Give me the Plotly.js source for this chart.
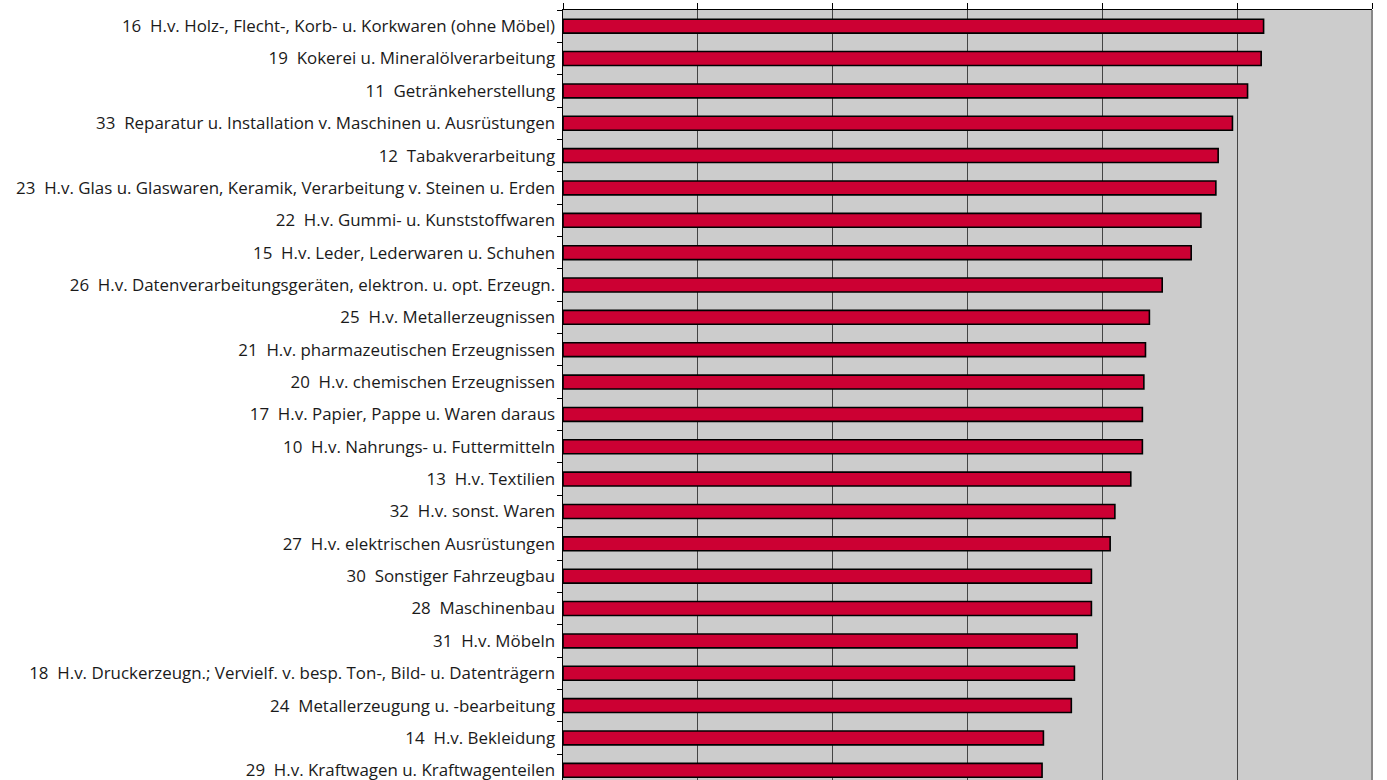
<!DOCTYPE html>
<html>
<head>
<meta charset="utf-8">
<script src="https://cdn.plot.ly/plotly-3.0.1.min.js"></script>
<style>
html, body { margin: 0; padding: 0; overflow: hidden; background: #ffffff; }
#chart { width: 1387px; height: 780px; }
</style>
</head>
<body>
<div id="chart"></div>
<script>
// Categories listed top to bottom as in the reference
const categories = [
  "16\u00a0 H.v. Holz-, Flecht-, Korb- u. Korkwaren (ohne Möbel)",
  "19\u00a0 Kokerei u. Mineralölverarbeitung",
  "11\u00a0 Getränkeherstellung",
  "33\u00a0 Reparatur u. Installation v. Maschinen u. Ausrüstungen",
  "12\u00a0 Tabakverarbeitung",
  "23\u00a0 H.v. Glas u. Glaswaren, Keramik, Verarbeitung v. Steinen u. Erden",
  "22\u00a0 H.v. Gummi- u. Kunststoffwaren",
  "15\u00a0 H.v. Leder, Lederwaren u. Schuhen",
  "26\u00a0 H.v. Datenverarbeitungsgeräten, elektron. u. opt. Erzeugn.",
  "25\u00a0 H.v. Metallerzeugnissen",
  "21\u00a0 H.v. pharmazeutischen Erzeugnissen",
  "20\u00a0 H.v. chemischen Erzeugnissen",
  "17\u00a0 H.v. Papier, Pappe u. Waren daraus",
  "10\u00a0 H.v. Nahrungs- u. Futtermitteln",
  "13\u00a0 H.v. Textilien",
  "32\u00a0 H.v. sonst. Waren",
  "27\u00a0 H.v. elektrischen Ausrüstungen",
  "30\u00a0 Sonstiger Fahrzeugbau",
  "28\u00a0 Maschinenbau",
  "31\u00a0 H.v. Möbeln",
  "18\u00a0 H.v. Druckerzeugn.; Vervielf. v. besp. Ton-, Bild- u. Datenträgern",
  "24\u00a0 Metallerzeugung u. -bearbeitung",
  "14\u00a0 H.v. Bekleidung",
  "29\u00a0 H.v. Kraftwagen u. Kraftwagenteilen"
];
const values = [
  51.96, 51.78, 50.77, 49.65, 48.59, 48.42, 47.31, 46.59,
  44.44, 43.49, 43.20, 43.08, 42.97, 42.97, 42.11, 40.93,
  40.58, 39.19, 39.19, 38.13, 37.93, 37.70, 35.63, 35.53
];
const xTicks = [0, 10, 20, 30, 40, 50, 60];

// bottom-to-top order for the category axis
const yCats = categories.slice().reverse();
const xVals = values.slice().reverse();

const trace = {
  type: 'bar',
  orientation: 'h',
  y: yCats,
  x: xVals,
  marker: { color: '#cc0033', line: { color: '#000000', width: 1.6 } },
  hoverinfo: 'x+y'
};

const layout = {
  width: 1387,
  height: 780,
  margin: { l: 563, r: 15, t: 10, b: 0, pad: 0 },
  paper_bgcolor: '#ffffff',
  plot_bgcolor: '#cccccc',
  bargap: 0.57,
  showlegend: false,
  font: { family: '"Open Sans", "Noto Sans", sans-serif', size: 16.9, color: '#1a1a1a' },
  xaxis: {
    side: 'top',
    range: [0, 60],
    tickvals: xTicks,
    showticklabels: false,
    ticks: 'outside',
    ticklen: 6,
    tickcolor: '#000000',
    tickwidth: 1,
    showgrid: true,
    gridcolor: '#444444',
    gridwidth: 1,
    showline: true,
    linecolor: '#000000',
    linewidth: 1.5,
    zeroline: false,
    fixedrange: true
  },
  yaxis: {
    type: 'category',
    categoryorder: 'array',
    categoryarray: yCats,
    range: [-0.3, 23.5],
    ticks: 'outside',
    tickson: 'boundaries',
    ticklen: 5,
    tickcolor: '#000000',
    ticklabelstandoff: 3,
    showline: true,
    linecolor: '#000000',
    linewidth: 1.5,
    showgrid: false,
    zeroline: false,
    tickfont: { size: 16.9, color: '#1a1a1a' },
    fixedrange: true
  },
  shapes: [
    { type: 'line', xref: 'paper', yref: 'paper', x0: 1, x1: 1, y0: 0, y1: 1,
      line: { color: '#888888', width: 2 } }
  ]
};

Plotly.newPlot('chart', [trace], layout, { displayModeBar: false, staticPlot: true });
</script>
</body>
</html>
